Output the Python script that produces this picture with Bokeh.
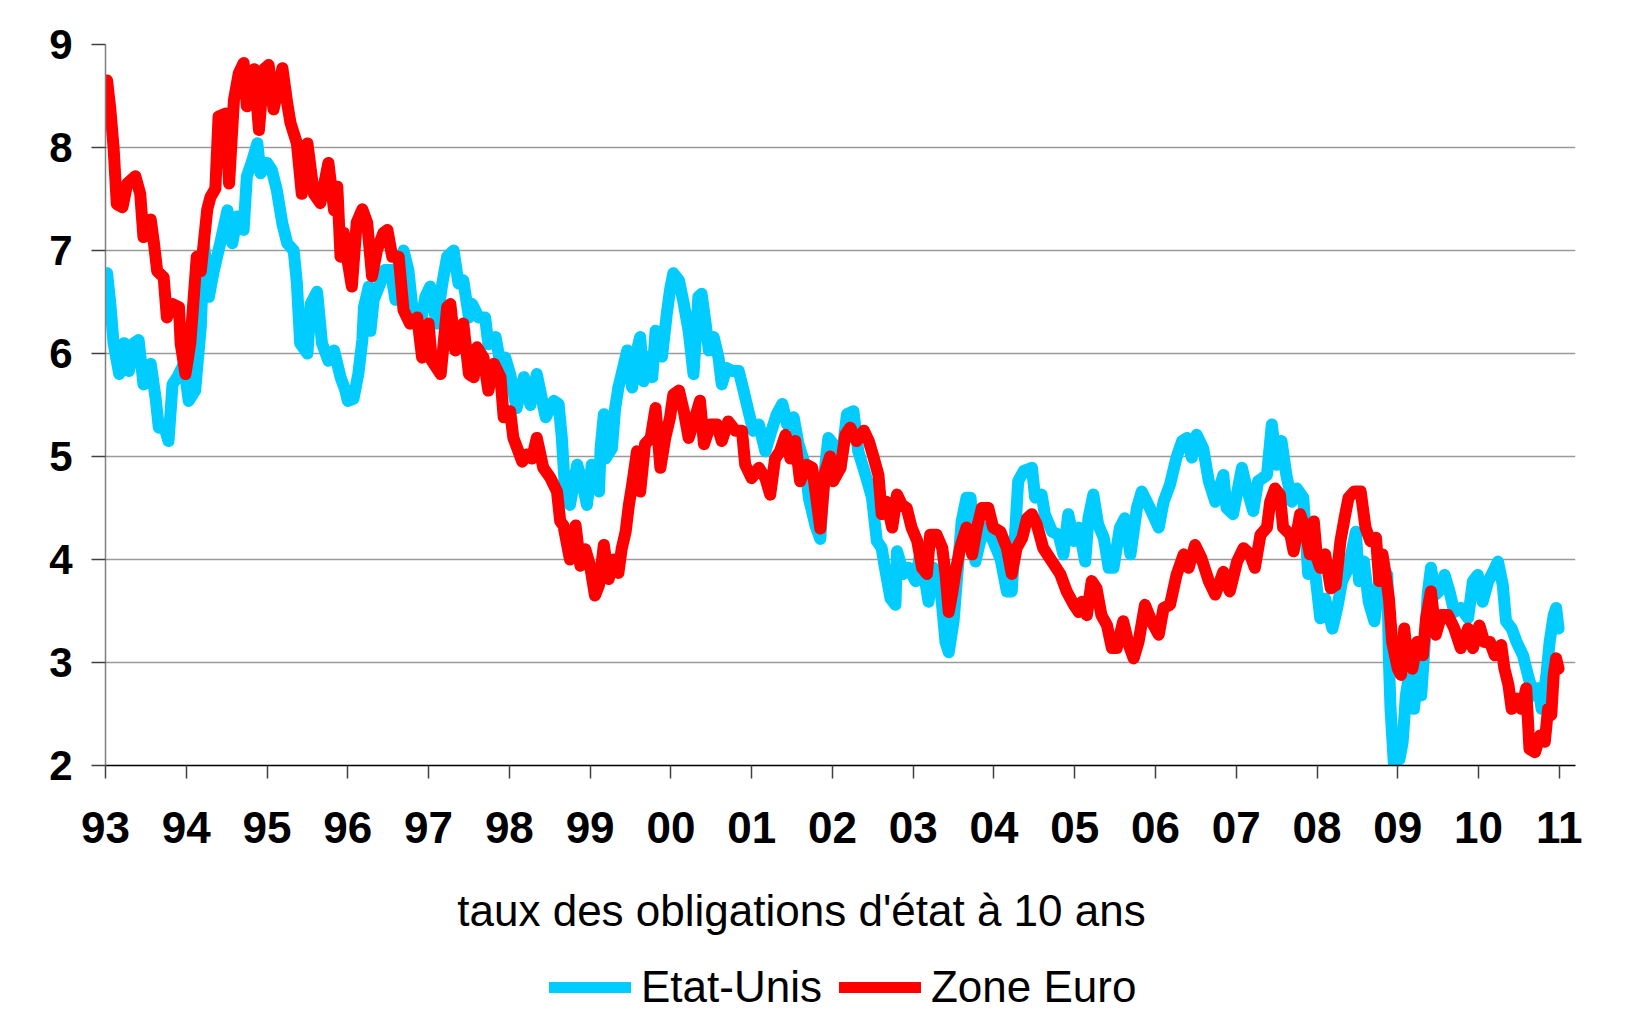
from bokeh.plotting import figure
from bokeh.models import Range1d, FixedTicker, Legend, LegendItem, Label
from bokeh.layouts import column
from bokeh.embed import file_html
from bokeh.resources import INLINE

# ---- data -------------------------------------------------------------
years = list(range(1993, 2012))
year_labels = ["93", "94", "95", "96", "97", "98", "99", "00", "01", "02",
               "03", "04", "05", "06", "07", "08", "09", "10", "11"]
y_ticks = [2, 3, 4, 5, 6, 7, 8, 9]

title_text = "taux des obligations d'état à 10 ans"
us_label = "Etat-Unis"
eu_label = "Zone Euro"

us_t = [1993.02, 1993.06, 1993.10, 1993.17, 1993.23, 1993.29, 1993.35, 1993.41, 1993.47, 1993.56,
        1993.62, 1993.66, 1993.72, 1993.78, 1993.83, 1993.89, 1993.97, 1994.03, 1994.11, 1994.18,
        1994.22, 1994.28, 1994.34, 1994.42, 1994.51, 1994.57, 1994.63, 1994.71, 1994.75, 1994.82,
        1994.88, 1994.92, 1995.00, 1995.06, 1995.12, 1995.19, 1995.25, 1995.33, 1995.37, 1995.41,
        1995.50, 1995.54, 1995.62, 1995.68, 1995.76, 1995.83, 1995.91, 1995.97, 1996.00, 1996.07,
        1996.13, 1996.18, 1996.20, 1996.26, 1996.28, 1996.32, 1996.40, 1996.46, 1996.53, 1996.59,
        1996.63, 1996.69, 1996.75, 1996.82, 1996.90, 1996.96, 1997.02, 1997.10, 1997.17, 1997.23,
        1997.31, 1997.37, 1997.43, 1997.50, 1997.54, 1997.62, 1997.70, 1997.74, 1997.83, 1997.89,
        1997.95, 1998.01, 1998.09, 1998.18, 1998.26, 1998.34, 1998.40, 1998.45, 1998.55, 1998.61,
        1998.65, 1998.69, 1998.75, 1998.84, 1998.90, 1998.96, 1999.02, 1999.11, 1999.13, 1999.17,
        1999.19, 1999.27, 1999.31, 1999.35, 1999.39, 1999.46, 1999.52, 1999.56, 1999.62, 1999.66,
        1999.72, 1999.77, 1999.81, 1999.89, 1999.95, 1999.99, 2000.03, 2000.10, 2000.16, 2000.22,
        2000.28, 2000.34, 2000.38, 2000.43, 2000.47, 2000.53, 2000.59, 2000.63, 2000.69, 2000.76,
        2000.84, 2000.90, 2000.96, 2001.02, 2001.09, 2001.17, 2001.23, 2001.31, 2001.38, 2001.44,
        2001.52, 2001.58, 2001.66, 2001.71, 2001.79, 2001.85, 2001.89, 2001.95, 2002.01, 2002.10,
        2002.18, 2002.26, 2002.32, 2002.41, 2002.49, 2002.55, 2002.61, 2002.65, 2002.72, 2002.78,
        2002.80, 2002.88, 2002.94, 2003.03, 2003.09, 2003.19, 2003.25, 2003.33, 2003.40, 2003.44,
        2003.50, 2003.54, 2003.60, 2003.66, 2003.71, 2003.77, 2003.83, 2003.91, 2003.99, 2004.08,
        2004.16, 2004.22, 2004.30, 2004.37, 2004.47, 2004.51, 2004.59, 2004.63, 2004.72, 2004.80,
        2004.86, 2004.92, 2004.99, 2005.05, 2005.13, 2005.17, 2005.23, 2005.29, 2005.36, 2005.42,
        2005.48, 2005.56, 2005.62, 2005.69, 2005.77, 2005.83, 2005.93, 2006.04, 2006.10, 2006.18,
        2006.26, 2006.33, 2006.39, 2006.45, 2006.51, 2006.59, 2006.66, 2006.74, 2006.84, 2006.88,
        2006.96, 2007.07, 2007.13, 2007.21, 2007.27, 2007.38, 2007.44, 2007.50, 2007.56, 2007.62,
        2007.69, 2007.75, 2007.83, 2007.89, 2007.93, 2007.98, 2008.04, 2008.10, 2008.19, 2008.25,
        2008.31, 2008.39, 2008.48, 2008.52, 2008.58, 2008.64, 2008.71, 2008.77, 2008.81, 2008.87,
        2008.89, 2008.91, 2008.95, 2009.02, 2009.06, 2009.10, 2009.14, 2009.20, 2009.24, 2009.29,
        2009.33, 2009.37, 2009.41, 2009.47, 2009.54, 2009.58, 2009.64, 2009.70, 2009.78, 2009.87,
        2009.93, 2009.99, 2010.05, 2010.12, 2010.18, 2010.24, 2010.30, 2010.34, 2010.41, 2010.47,
        2010.55, 2010.61, 2010.68, 2010.74, 2010.78, 2010.84, 2010.88, 2010.93, 2010.96, 2010.99]
us_v = [6.78, 6.48, 6.10, 5.80, 6.10, 5.83, 6.10, 6.13, 5.70, 5.90,
        5.57, 5.28, 5.31, 5.15, 5.70, 5.77, 5.90, 5.54, 5.64, 6.26,
        7.07, 6.55, 6.80, 7.07, 7.39, 7.07, 7.33, 7.20, 7.72, 7.88,
        8.04, 7.75, 7.85, 7.78, 7.59, 7.26, 7.07, 7.00, 6.68, 6.10,
        6.00, 6.48, 6.60, 6.10, 5.93, 6.03, 5.77, 5.64, 5.54, 5.56,
        5.80, 6.13, 6.45, 6.65, 6.22, 6.52, 6.68, 6.81, 6.81, 6.52,
        6.88, 7.00, 6.81, 6.29, 6.29, 6.55, 6.65, 6.29, 6.68, 6.94,
        7.00, 6.68, 6.71, 6.35, 6.48, 6.35, 6.35, 6.09, 6.16, 5.90,
        5.96, 5.80, 5.47, 5.77, 5.50, 5.80, 5.57, 5.38, 5.54, 5.51,
        5.18, 4.66, 4.53, 4.92, 4.76, 4.53, 4.92, 4.66, 5.08, 5.41,
        4.98, 5.08, 5.47, 5.67, 5.80, 6.03, 5.67, 5.97, 6.16, 5.73,
        5.97, 5.77, 6.22, 5.97, 6.39, 6.62, 6.78, 6.71, 6.48, 6.22,
        5.80, 6.55, 6.58, 6.29, 6.03, 6.16, 5.96, 5.70, 5.86, 5.83,
        5.83, 5.64, 5.44, 5.25, 5.31, 5.05, 5.21, 5.41, 5.51, 5.31,
        5.38, 5.12, 4.92, 4.59, 4.33, 4.20, 4.76, 5.18, 5.12, 4.89,
        5.41, 5.44, 5.05, 4.82, 4.60, 4.18, 4.11, 3.92, 3.62, 3.56,
        4.08, 3.86, 3.92, 3.79, 4.08, 3.59, 3.92, 3.79, 3.20, 3.10,
        3.40, 3.79, 4.37, 4.60, 4.60, 3.98, 4.18, 4.31, 4.18, 4.01,
        3.69, 3.69, 4.76, 4.86, 4.89, 4.60, 4.63, 4.44, 4.27, 4.24,
        4.05, 4.44, 4.18, 4.31, 3.98, 4.40, 4.63, 4.34, 4.21, 3.92,
        3.92, 4.31, 4.40, 4.05, 4.50, 4.66, 4.50, 4.31, 4.56, 4.73,
        4.99, 5.15, 5.18, 4.99, 5.21, 5.08, 4.76, 4.56, 4.82, 4.50,
        4.44, 4.89, 4.69, 4.47, 4.76, 4.82, 5.31, 4.92, 5.15, 4.82,
        4.56, 4.69, 4.60, 3.86, 4.24, 3.85, 3.43, 3.62, 3.33, 3.53,
        3.79, 3.92, 4.27, 3.79, 3.98, 3.59, 3.40, 3.79, 3.92, 3.85,
        3.01, 2.55, 2.03, 2.06, 2.23, 2.68, 2.88, 2.55, 2.88, 2.68,
        3.14, 3.66, 3.92, 3.66, 3.72, 3.85, 3.69, 3.49, 3.53, 3.43,
        3.79, 3.85, 3.59, 3.79, 3.88, 3.98, 3.75, 3.40, 3.33, 3.20,
        3.07, 2.88, 2.68, 2.75, 2.55, 2.88, 3.20, 3.46, 3.53, 3.33]

eu_t = [1993.02, 1993.06, 1993.10, 1993.14, 1993.21, 1993.27, 1993.37, 1993.43, 1993.47, 1993.56,
        1993.60, 1993.64, 1993.72, 1993.76, 1993.83, 1993.91, 1993.93, 1993.99, 1994.05, 1994.13,
        1994.18, 1994.26, 1994.30, 1994.36, 1994.40, 1994.49, 1994.53, 1994.59, 1994.65, 1994.71,
        1994.75, 1994.84, 1994.90, 1994.96, 1995.02, 1995.08, 1995.19, 1995.25, 1995.29, 1995.37,
        1995.43, 1995.50, 1995.58, 1995.66, 1995.76, 1995.83, 1995.87, 1995.91, 1995.95, 1995.99,
        1996.05, 1996.11, 1996.18, 1996.24, 1996.30, 1996.36, 1996.44, 1996.49, 1996.55, 1996.63,
        1996.69, 1996.77, 1996.86, 1996.92, 1997.00, 1997.04, 1997.15, 1997.23, 1997.27, 1997.33,
        1997.43, 1997.50, 1997.56, 1997.60, 1997.68, 1997.74, 1997.81, 1997.89, 1997.93, 1998.01,
        1998.05, 1998.16, 1998.22, 1998.28, 1998.34, 1998.42, 1998.51, 1998.59, 1998.63, 1998.67,
        1998.75, 1998.82, 1998.88, 1998.94, 1999.00, 1999.06, 1999.11, 1999.17, 1999.23, 1999.29,
        1999.35, 1999.39, 1999.44, 1999.48, 1999.52, 1999.58, 1999.62, 1999.68, 1999.75, 1999.81,
        1999.87, 1999.93, 1999.99, 2000.03, 2000.10, 2000.16, 2000.22, 2000.30, 2000.36, 2000.41,
        2000.49, 2000.57, 2000.63, 2000.71, 2000.80, 2000.88, 2000.92, 2001.00, 2001.09, 2001.17,
        2001.23, 2001.29, 2001.35, 2001.42, 2001.48, 2001.54, 2001.60, 2001.68, 2001.75, 2001.79,
        2001.85, 2001.91, 2001.97, 2002.01, 2002.10, 2002.16, 2002.22, 2002.30, 2002.39, 2002.45,
        2002.51, 2002.57, 2002.61, 2002.67, 2002.74, 2002.80, 2002.86, 2002.92, 2002.98, 2003.05,
        2003.11, 2003.17, 2003.21, 2003.29, 2003.36, 2003.40, 2003.44, 2003.48, 2003.52, 2003.58,
        2003.66, 2003.73, 2003.79, 2003.85, 2003.93, 2003.99, 2004.08, 2004.16, 2004.22, 2004.28,
        2004.35, 2004.41, 2004.47, 2004.53, 2004.61, 2004.72, 2004.82, 2004.90, 2004.99, 2005.05,
        2005.09, 2005.15, 2005.21, 2005.27, 2005.33, 2005.40, 2005.46, 2005.52, 2005.60, 2005.67,
        2005.73, 2005.79, 2005.87, 2005.95, 2006.04, 2006.10, 2006.18, 2006.26, 2006.35, 2006.41,
        2006.49, 2006.57, 2006.66, 2006.74, 2006.84, 2006.92, 2007.01, 2007.09, 2007.17, 2007.23,
        2007.30, 2007.38, 2007.42, 2007.48, 2007.54, 2007.58, 2007.67, 2007.71, 2007.79, 2007.85,
        2007.91, 2007.96, 2008.00, 2008.04, 2008.10, 2008.17, 2008.23, 2008.29, 2008.35, 2008.39,
        2008.46, 2008.54, 2008.60, 2008.66, 2008.73, 2008.77, 2008.81, 2008.85, 2008.89, 2008.93,
        2009.00, 2009.04, 2009.08, 2009.12, 2009.18, 2009.24, 2009.31, 2009.35, 2009.41, 2009.47,
        2009.54, 2009.62, 2009.70, 2009.78, 2009.87, 2009.93, 2010.01, 2010.07, 2010.14, 2010.20,
        2010.28, 2010.32, 2010.37, 2010.41, 2010.47, 2010.53, 2010.59, 2010.63, 2010.70, 2010.76,
        2010.82, 2010.86, 2010.90, 2010.93, 2010.96, 2010.99]
eu_v = [8.65, 8.37, 8.00, 7.45, 7.42, 7.65, 7.72, 7.55, 7.13, 7.30,
        7.07, 6.80, 6.74, 6.35, 6.48, 6.45, 6.10, 5.80, 6.10, 6.94,
        6.80, 7.40, 7.52, 7.60, 8.30, 8.33, 7.65, 8.46, 8.72, 8.82,
        8.40, 8.76, 8.17, 8.76, 8.80, 8.37, 8.77, 8.43, 8.24, 8.04,
        7.55, 8.04, 7.55, 7.46, 7.85, 7.39, 7.62, 6.94, 7.17, 6.94,
        6.65, 7.27, 7.40, 7.27, 6.75, 7.00, 7.17, 7.20, 6.94, 6.94,
        6.42, 6.29, 6.35, 5.96, 6.29, 5.93, 5.80, 6.45, 6.48, 6.03,
        6.29, 5.80, 5.77, 6.06, 5.96, 5.64, 5.90, 5.77, 5.38, 5.44,
        5.18, 4.95, 5.02, 4.98, 5.18, 4.89, 4.79, 4.66, 4.37, 4.33,
        4.00, 4.33, 3.94, 4.10, 3.94, 3.65, 3.75, 4.14, 3.81, 4.00,
        3.87, 4.10, 4.27, 4.53, 4.72, 5.05, 4.66, 5.12, 5.18, 5.47,
        4.89, 5.18, 5.38, 5.60, 5.64, 5.44, 5.18, 5.38, 5.54, 5.12,
        5.31, 5.31, 5.15, 5.34, 5.25, 5.25, 4.92, 4.79, 4.89, 4.79,
        4.63, 4.98, 5.05, 5.21, 4.98, 5.15, 4.76, 4.92, 4.89, 4.66,
        4.30, 4.85, 5.00, 4.76, 4.89, 5.21, 5.28, 5.15, 5.25, 5.15,
        4.99, 4.82, 4.44, 4.56, 4.31, 4.63, 4.53, 4.50, 4.31, 4.18,
        3.92, 3.86, 4.24, 4.24, 4.11, 3.86, 3.49, 3.66, 3.86, 4.11,
        4.31, 4.05, 4.31, 4.50, 4.50, 4.31, 4.27, 4.11, 3.86, 4.11,
        4.21, 4.40, 4.44, 4.34, 4.11, 3.98, 3.86, 3.69, 3.56, 3.49,
        3.59, 3.46, 3.79, 3.72, 3.46, 3.36, 3.14, 3.14, 3.40, 3.17,
        3.04, 3.20, 3.56, 3.40, 3.27, 3.53, 3.56, 3.85, 4.05, 3.92,
        4.14, 4.01, 3.79, 3.66, 3.88, 3.69, 3.98, 4.11, 4.05, 3.92,
        4.24, 4.31, 4.56, 4.69, 4.63, 4.31, 4.24, 4.08, 4.44, 4.31,
        4.05, 4.37, 4.01, 3.92, 4.05, 3.72, 3.75, 4.18, 4.44, 4.60,
        4.66, 4.66, 4.31, 4.18, 4.21, 3.79, 4.05, 3.85, 3.62, 3.20,
        2.94, 2.88, 3.33, 3.01, 2.94, 3.20, 3.07, 3.43, 3.69, 3.27,
        3.46, 3.46, 3.33, 3.14, 3.33, 3.14, 3.36, 3.20, 3.20, 3.07,
        3.17, 2.94, 2.78, 2.55, 2.65, 2.55, 2.75, 2.16, 2.13, 2.29,
        2.23, 2.55, 2.49, 2.88, 3.04, 2.94]

US_COLOR = "#00CCFF"
EU_COLOR = "#FF0000"
FONT = "Liberation Sans"
W = 1617
H_MAIN = 870
H_FOOT = 148
FRAME_L = 105
FRAME_R = 1575
LINE_W = 12

# ---- main chart ----------------------------------------------------------
p = figure(width=W, height=H_MAIN,
           x_range=Range1d(1993, 2011.2), y_range=Range1d(2, 9),
           output_backend="svg", toolbar_location=None,
           min_border_left=FRAME_L, min_border_right=W - FRAME_R,
           min_border_top=44, min_border_bottom=105)
p.outline_line_color = None
p.background_fill_color = "white"
p.border_fill_color = "white"

p.xgrid.grid_line_color = None
p.ygrid.grid_line_color = "#9a9a9a"
p.ygrid.grid_line_width = 1.5

p.yaxis.ticker = FixedTicker(ticks=y_ticks)
p.xaxis.ticker = FixedTicker(ticks=years)
p.xaxis.major_label_overrides = {y: lab for y, lab in zip(years, year_labels)}

for ax in (p.xaxis, p.yaxis):
    ax.minor_tick_line_color = None
    ax.major_tick_in = 0
    ax.major_label_text_font = FONT
    ax.major_label_text_font_style = "bold"
    ax.major_label_text_color = "black"
    ax.major_tick_line_width = 1.5

p.yaxis.axis_line_color = "#808080"
p.yaxis.axis_line_width = 1.5
p.yaxis.major_tick_line_color = "#404040"
p.yaxis.major_tick_out = 14
p.yaxis.major_label_text_font_size = "42px"
p.yaxis.major_label_standoff = 19

p.xaxis.axis_line_color = "black"
p.xaxis.axis_line_width = 1.5
p.xaxis.major_tick_line_color = "#404040"
p.xaxis.major_tick_out = 13
p.xaxis.major_label_text_font_size = "44px"
p.xaxis.major_label_standoff = 33

p.line(us_t, us_v, line_color=US_COLOR, line_width=LINE_W,
       line_join="round", line_cap="round")
p.line(eu_t, eu_v, line_color=EU_COLOR, line_width=LINE_W,
       line_join="round", line_cap="round")

# ---- footer: title + legend (frame aligned with the main frame) ---------
f = figure(width=W, height=H_FOOT,
           x_range=Range1d(FRAME_L, FRAME_R), y_range=Range1d(0, H_FOOT),
           output_backend="svg", toolbar_location=None,
           min_border_left=FRAME_L, min_border_right=W - FRAME_R,
           min_border_top=0, min_border_bottom=0,
           x_axis_type=None, y_axis_type=None)
f.outline_line_color = None
f.grid.visible = False
f.background_fill_color = "white"
f.border_fill_color = "white"

f.add_layout(Label(x=801, y=H_FOOT - 40, text=title_text,
                   text_align="center", text_baseline="middle",
                   text_font=FONT, text_font_size="44px", text_color="black"))

# hidden copies of the series, only used to draw the legend swatches
lg_us = f.line(us_t, us_v, line_color=US_COLOR, line_width=11, line_cap="round",
               visible=False)
lg_eu = f.line(eu_t, eu_v, line_color=EU_COLOR, line_width=11, line_cap="round",
               visible=False)

legend = Legend(items=[LegendItem(label=us_label, renderers=[lg_us]),
                       LegendItem(label=eu_label, renderers=[lg_eu])],
                orientation="horizontal", location=(549 - FRAME_L, 6),
                glyph_width=82, glyph_height=40, label_standoff=10, spacing=17,
                padding=0, margin=0,
                label_text_font=FONT, label_text_font_size="44px",
                label_text_color="black",
                inactive_fill_alpha=0,
                border_line_color=None, background_fill_alpha=0)
f.add_layout(legend, "center")

open("out.html", "w").write(file_html(column(p, f, spacing=0), INLINE))
